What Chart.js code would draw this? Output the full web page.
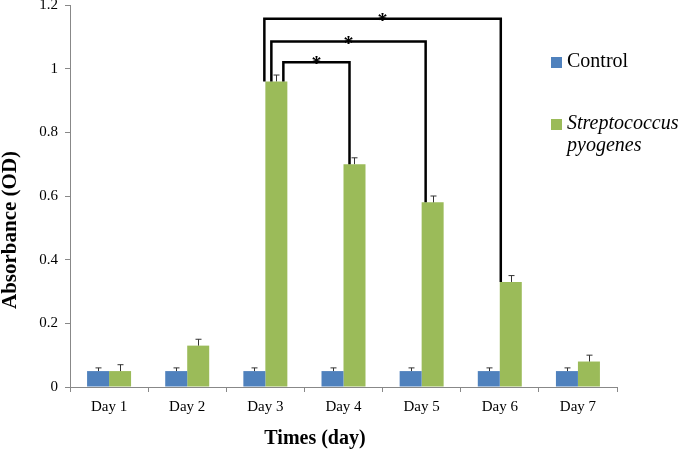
<!DOCTYPE html>
<html>
<head>
<meta charset="utf-8">
<script src="https://cdn.jsdelivr.net/npm/chart.js@4/dist/chart.umd.min.js"></script>
<style>
  html, body { margin: 0; padding: 0; background: #fff; }
  #wrap { width: 685px; height: 456px; }
</style>
</head>
<body>
<div id="wrap"><canvas id="grafico"></canvas></div>
<script>
const giorni = ["Day 1", "Day 2", "Day 3", "Day 4", "Day 5", "Day 6", "Day 7"];
const controllo = [0.05, 0.05, 0.05, 0.05, 0.05, 0.05, 0.05];
const controlloErr = [0.01, 0.01, 0.01, 0.01, 0.01, 0.01, 0.01];
const strepto = [0.05, 0.13, 0.96, 0.70, 0.58, 0.33, 0.08];
const streptoErr = [0.02, 0.02, 0.02, 0.02, 0.02, 0.02, 0.02];
const yTicks = [0, 0.2, 0.4, 0.6, 0.8, 1, 1.2];
// significance brackets: [from day index, to day index, height]
const parentesi = [
  [2, 3, 1.02],
  [2, 4, 1.085],
  [2, 5, 1.157],
];

const serif = "'Liberation Serif', 'Times New Roman', serif";

// error bars, only upward
const barreErrore = {
  id: "barreErrore",
  afterDatasetsDraw(chart) {
    const ctx = chart.ctx;
    const y = chart.scales.y;
    const errori = [controlloErr, streptoErr];
    ctx.save();
    ctx.strokeStyle = "#333";
    ctx.lineWidth = 1;
    chart.data.datasets.forEach((ds, i) => {
      const meta = chart.getDatasetMeta(i);
      meta.data.forEach((bar, j) => {
        const top = y.getPixelForValue(ds.data[j] + errori[i][j]);
        const x = Math.round(bar.x) + 0.5;
        ctx.beginPath();
        ctx.moveTo(x, bar.y);
        ctx.lineTo(x, top);
        ctx.moveTo(x - 3, top);
        ctx.lineTo(x + 3, top);
        ctx.stroke();
      });
    });
    ctx.restore();
  },
};

// brackets with stars
const stelle = {
  id: "stelle",
  afterDatasetsDraw(chart) {
    const ctx = chart.ctx;
    const y = chart.scales.y;
    const meta = chart.getDatasetMeta(1);
    const offSinistra = [18, 6, -1];
    const offDestra = [6, 4, 1];
    ctx.save();
    ctx.strokeStyle = "#000";
    ctx.lineWidth = 2.5;
    ctx.lineJoin = "miter";
    parentesi.forEach((p, k) => {
      const a = meta.data[p[0]];
      const b = meta.data[p[1]];
      const x1 = a.x - a.width / 2 + offSinistra[k];
      const x2 = b.x - b.width / 2 + offDestra[k];
      const h = y.getPixelForValue(p[2]);
      ctx.beginPath();
      ctx.moveTo(x1, a.y);
      ctx.lineTo(x1, h);
      ctx.lineTo(x2, h);
      ctx.lineTo(x2, b.y);
      ctx.stroke();
      ctx.fillStyle = "#000";
      ctx.font = "bold 20px " + serif;
      ctx.textAlign = "center";
      ctx.textBaseline = "alphabetic";
      ctx.fillText("*", (x1 + x2) / 2, h + 8);
    });
    ctx.restore();
  },
};

// legend on the right + axis titles
const legenda = {
  id: "legenda",
  afterDraw(chart) {
    const ctx = chart.ctx;
    ctx.save();
    ctx.textBaseline = "middle";
    ctx.textAlign = "left";
    ctx.fillStyle = "#4F81BD";
    ctx.fillRect(551, 57, 11, 11);
    ctx.fillStyle = "#9BBB59";
    ctx.fillRect(551, 119, 11, 11);
    ctx.fillStyle = "#000";
    ctx.font = "20px " + serif;
    ctx.fillText("Control", 567, 62);
    ctx.font = "italic 20px " + serif;
    ctx.fillText("Streptococcus", 567, 124);
    ctx.fillText("pyogenes", 567, 146);

    ctx.textAlign = "center";
    ctx.font = "bold 20px " + serif;
    ctx.fillText("Times (day)", 315, 439);
    ctx.translate(11, 230);
    ctx.rotate(-Math.PI / 2);
    ctx.font = "bold 21px " + serif;
    ctx.fillText("Absorbance (OD)", 0, 0);
    ctx.restore();
  },
};

const data = {
  labels: giorni,
  datasets: [
    {
      label: "Control",
      data: controllo,
      backgroundColor: "#4F81BD",
      borderWidth: 0,
    },
    {
      label: "Streptococcus pyogenes",
      data: strepto,
      backgroundColor: "#9BBB59",
      borderWidth: 0,
    },
  ],
};

const config = {
  type: "bar",
  data: data,
  options: {
    responsive: true,
    maintainAspectRatio: false,
    animation: false,
    categoryPercentage: 0.563,
    barPercentage: 1,
    layout: { padding: { left: 0, right: 68, top: 5, bottom: 0 } },
    plugins: {
      legend: { display: false },
      tooltip: { enabled: false },
    },
    scales: {
      x: {
        afterFit(s) { s.height = 69; },
        grid: {
          drawOnChartArea: false,
          drawTicks: true,
          tickLength: 5,
          color: "#888",
          offset: true,
        },
        border: { color: "#888" },
        ticks: {
          color: "#000",
          padding: 6,
          font: { family: serif, size: 15 },
        },
      },
      y: {
        min: 0,
        max: 1.2,
        afterFit(s) {
          s.width = 70;
          s.paddingTop = 0;
          s.paddingBottom = 0;
        },
        afterBuildTicks(s) { s.ticks = yTicks.map((v) => ({ value: v })); },
        grid: {
          drawOnChartArea: false,
          drawTicks: true,
          tickLength: 5,
          color: "#888",
        },
        border: { color: "#888" },
        ticks: {
          color: "#000",
          padding: 7,
          font: { family: serif, size: 15 },
          callback: (v) => String(v),
        },
      },
    },
  },
  plugins: [barreErrore, stelle, legenda],
};

const grafico = new Chart(document.getElementById("grafico"), config);
</script>
</body>
</html>
